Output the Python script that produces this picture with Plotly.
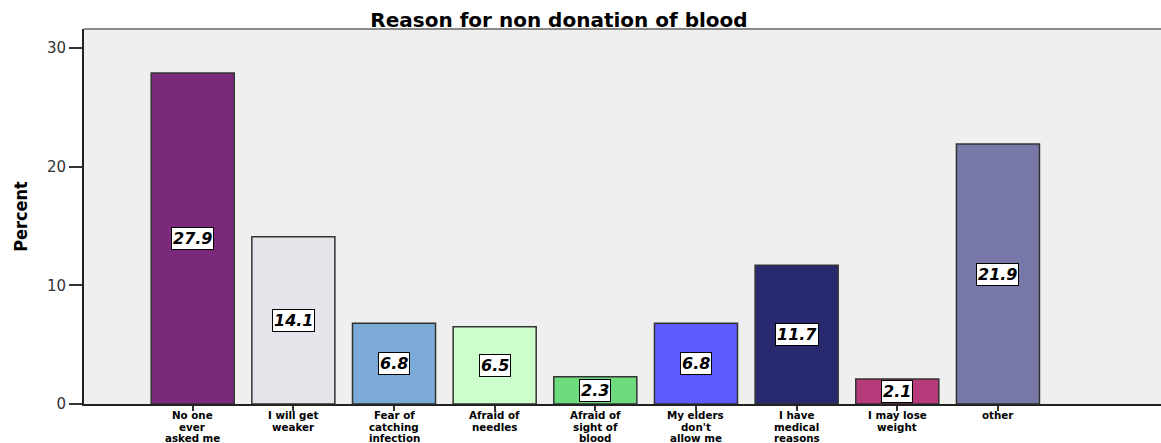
import plotly.graph_objects as go

categories = ["No one ever asked me", "I will get weaker", "Fear of catching infection",
              "Afraid of needles", "Afraid of sight of blood", "My elders don't allow me",
              "I have medical reasons", "I may lose weight", "other"]
tick_labels = [["No one", "ever", "asked me"], ["I will get", "weaker"], ["Fear of", "catching", "infection"],
               ["Afraid of", "needles"], ["Afraid of", "sight of", "blood"], ["My elders", "don't", "allow me"],
               ["I have", "medical", "reasons"], ["I may lose", "weight"], ["other"]]
percent = [27.9, 14.1, 6.8, 6.5, 2.3, 6.8, 11.7, 2.1, 21.9]
colors = ["#7B2A7B", "#E4E4EA", "#7BAAD6", "#CCFFCC", "#6EDB7E",
          "#5C5CFF", "#29296F", "#B73A7B", "#7878A8"]

fig = go.Figure()
fig.add_trace(go.Bar(
    x=categories, y=percent,
    marker=dict(color=colors, line=dict(color="#333333", width=1.5)),
    width=0.825, hoverinfo="x+y",
))

for c, v in zip(categories, percent):
    fig.add_annotation(
        x=c, y=v / 2, xref="x", yref="y",
        text=f"{v:.1f}", showarrow=False,
        font=dict(family="DejaVu Sans", size=16, color="black", weight="bold", style="italic"),
        bgcolor="white", bordercolor="black", borderwidth=1, borderpad=1,
    )

# multi-line category labels with tight line spacing
for c, lines in zip(categories, tick_labels):
    for i, line in enumerate(lines):
        fig.add_annotation(
            x=c, y=0, xref="x", yref="y", text=line, showarrow=False,
            yanchor="top", yshift=-(4 + i * 11.5),
            font=dict(family="DejaVu Sans", size=10.3, color="black", weight="bold"),
            borderpad=0,
        )

fig.add_shape(type="line", xref="paper", yref="paper", x0=0, x1=1, y0=1, y1=1,
              line=dict(color="#888888", width=2))

fig.update_layout(
    width=1161, height=443,
    margin=dict(l=84, r=0, t=29, b=39),
    paper_bgcolor="white", plot_bgcolor="#EFEFEF",
    showlegend=False,
    title=dict(text="<b>Reason for non donation of blood</b>",
               font=dict(family="DejaVu Sans", size=20, color="black"),
               x=559 / 1161, xanchor="center", xref="container",
               y=1 - 20 / 443, yanchor="middle", yref="container"),
    bargap=0.175,
)
fig.update_xaxes(
    type="category", tickmode="array", tickvals=categories,
    range=[-1.08, 9.62], showticklabels=False,
    ticks="outside", ticklen=5, tickcolor="#333333", tickwidth=1.5,
    showline=True, linecolor="#222222", linewidth=2,
    showgrid=False, automargin=False,
)
fig.update_yaxes(
    range=[0, 31.6], tickvals=[0, 10, 20, 30],
    tickfont=dict(family="DejaVu Sans", size=15, color="#333333"),
    ticks="outside", ticklen=13, tickcolor="#333333", tickwidth=1.5,
    showline=True, linecolor="#222222", linewidth=2,
    showgrid=False, zeroline=False, automargin=False,
    title=dict(text="Percent", standoff=15,
               font=dict(family="Liberation Sans Narrow, DejaVu Sans Condensed, Arial Narrow",
                         size=18, color="black", weight="bold")),
)

fig.write_html("out.html", config={"displayModeBar": False},
               post_script="document.body.style.margin='0';document.body.style.overflow='hidden';")
